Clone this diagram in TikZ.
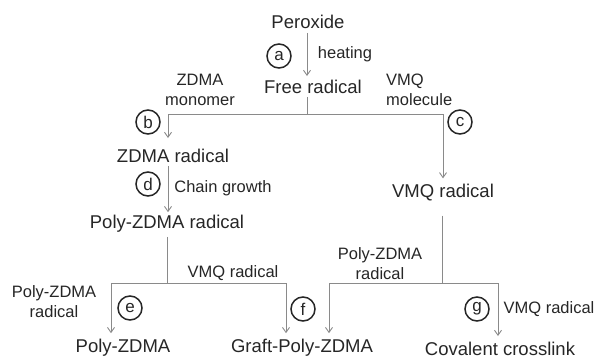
\documentclass[tikz,border=0pt]{standalone}
\usepackage{fontspec}
\setmainfont{Liberation Sans}
\usetikzlibrary{arrows.meta}
\definecolor{linegray}{HTML}{8A8A8A}
\definecolor{txt}{HTML}{262626}
\tikzset{
  lbl/.style={inner sep=0pt, text=txt, font=\fontsize{18.5}{21}\selectfont},
  small/.style={inner sep=0pt, text=txt, font=\fontsize{16.5}{20}\selectfont, align=center},
  stepcirc/.style={circle, draw=black!85, line width=1.5pt, minimum size=24pt, inner sep=0pt, text=txt, font=\fontsize{17}{17}\selectfont},
  ln/.style={draw=linegray, line width=0.9pt},
  arr/.style={ln, -{Straight Barb[length=5pt,width=7pt]}},
}
\begin{document}
\begin{tikzpicture}[x=1pt,y=-1pt]
\useasboundingbox (0,0) rectangle (596,359);
% main nodes
\node[lbl] (perox) at (308,22) {Peroxide};
\node[lbl] (free) at (313,87) {Free radical};
\node[lbl] (zdmar) at (173,156) {ZDMA radical};
\node[lbl] (polyzr) at (167,224) {Poly-ZDMA radical};
\node[lbl] (vmqr) at (443,193) {VMQ radical};
\node[lbl] (polyz) at (123,348) {Poly-ZDMA};
\node[lbl] (graft) at (302,348) {Graft-Poly-ZDMA};
\node[lbl] (cov) at (500,349) {Covalent crosslink};
% labels
\node[small] (heat) at (345,54) {heating};
\node[small] (zmono) at (200,90) {ZDMA\\monomer};
\node[small, align=left, anchor=west] (vmqmol) at (386,90) {VMQ\\molecule};
\node[small] (chain) at (223,188) {Chain growth};
\node[small] (vmqlab1) at (233,273) {VMQ radical};
\node[small] (pzlab1) at (54,302) {Poly-ZDMA\\radical};
\node[small] (pzlab2) at (380,264) {Poly-ZDMA\\radical};
\node[small] (vmqlab2) at (549,309) {VMQ radical};
% step circles
\node[stepcirc] (ca) at (279,56) {a};
\node[stepcirc] (cb) at (148,122) {b};
\node[stepcirc] (cc) at (460,122) {c};
\node[stepcirc] (cd) at (148,184) {d};
\node[stepcirc] (ce) at (130,308) {e};
\node[stepcirc] (cf) at (303,309) {f};
\node[stepcirc] (cg) at (477,309) {g};
% junction coordinates
\coordinate (j1) at (307,114);
\coordinate (j1l) at (168,114);
\coordinate (j1r) at (443,114);
\coordinate (j2) at (167,283);
\coordinate (j2l) at (111,283);
\coordinate (j2r) at (286,283);
\coordinate (j3) at (442,283);
\coordinate (j3l) at (329,283);
\coordinate (j3r) at (498,283);
% connectors
\draw[arr] ([yshift=-4pt]perox.south -| j1) -- ([yshift=4pt]free.north -| j1);
\draw[ln] ([yshift=-3pt]free.south -| j1) -- (j1);
\draw[ln] (j1l) -- (j1r);
\draw[arr] (j1l) -- ([yshift=11pt]zdmar.north -| j1l);
\draw[arr] (j1r) -- ([yshift=6pt]vmqr.north -| j1r);
\draw[arr] ([yshift=-3pt]zdmar.south -| j1l) -- ([yshift=3pt]polyzr.north -| j1l);
\draw[ln] ([yshift=-4pt]polyzr.south -| j2) -- (j2);
\draw[ln] (j2l) -- (j2r);
\draw[arr] (j2l) -- ([yshift=6pt]polyz.north -| j2l);
\draw[arr] (j2r) -- ([yshift=6pt]graft.north -| j2r);
\draw[ln] ([yshift=-14pt]vmqr.south -| j3) -- (j3);
\draw[ln] (j3l) -- (j3r);
\draw[arr] (j3l) -- ([yshift=6pt]graft.north -| j3l);
\draw[arr] (j3r) -- ([yshift=6pt]cov.north -| j3r);
\end{tikzpicture}
\end{document}
